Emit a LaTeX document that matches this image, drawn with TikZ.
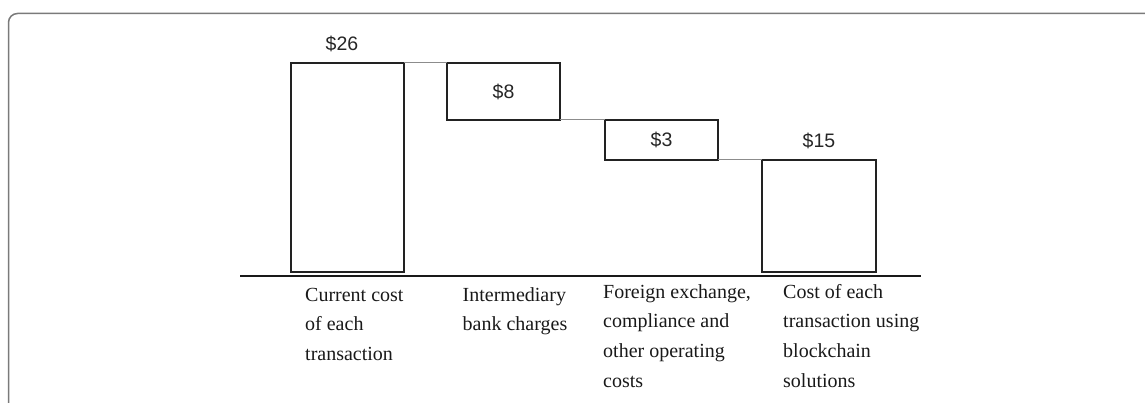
\documentclass[tikz,border=0pt]{standalone}
\usepackage{fontspec}
\setmainfont{Liberation Serif}
\newfontfamily\labsans{Liberation Sans}
\definecolor{framegray}{HTML}{7A7A7A}
\definecolor{conngray}{HTML}{8C8C8C}
\definecolor{barline}{HTML}{222222}
\begin{document}
\begin{tikzpicture}[x=1pt,y=-1pt,
  bar/.style={draw=barline, line width=1.6pt, inner sep=0pt, outer sep=0pt, fill=white},
  conn/.style={draw=conngray, line width=1pt},
  val/.style={font=\labsans\fontsize{19.5}{22}\selectfont, inner sep=0pt, text=black!85},
  cat/.style={font=\fontsize{20}{29.7}\selectfont, align=left, inner sep=0pt, anchor=base west, text=black!90}]
\useasboundingbox (0,0) rectangle (1145,403);
% frame
\draw[framegray, line width=1.5pt, rounded corners=9pt] (1160,13.5) -- (8.5,13.5) -- (8.5,420);
% bars
\node[bar, minimum width=113pt, minimum height=209pt] (b26) at (347.5,167.5) {};
\node[bar, minimum width=113pt, minimum height=57pt] (b8) at (503.5,91.5) {};
\node[bar, minimum width=113pt, minimum height=40pt] (b3) at (661.5,140) {};
\node[bar, minimum width=114pt, minimum height=112pt] (b15) at (819,216) {};
% connectors
\draw[conn] (b26.north east) -- (b8.north west);
\draw[conn] (b8.south east) -- (b3.north west);
\draw[conn] (b3.south east) -- (b15.north west);
% baseline
\coordinate (axL) at (240,276);
\coordinate (axR) at (921,276);
\draw[black!90, line width=2.6pt] (axL) -- (axR);
% values
\node[val, anchor=base] (v26) at (342,51) {\$26};
\node[val] (v8) at (b8.center) {\$8};
\node[val] (v3) at (b3.center) {\$3};
\node[val, anchor=base] (v15) at (819,148) {\$15};
% categories (anchored at the baseline of the last line)
\node[cat] (c1) at (305,360.4) {Current cost\\of each\\transaction};
\node[cat] (c2) at (462.5,330.7) {Intermediary\\bank charges};
\node[cat] (c3) at (603,387.1) {Foreign exchange,\\compliance and\\other operating\\costs};
\node[cat] (c4) at (783,387.1) {Cost of each\\transaction using\\blockchain\\solutions};
\end{tikzpicture}
\end{document}
